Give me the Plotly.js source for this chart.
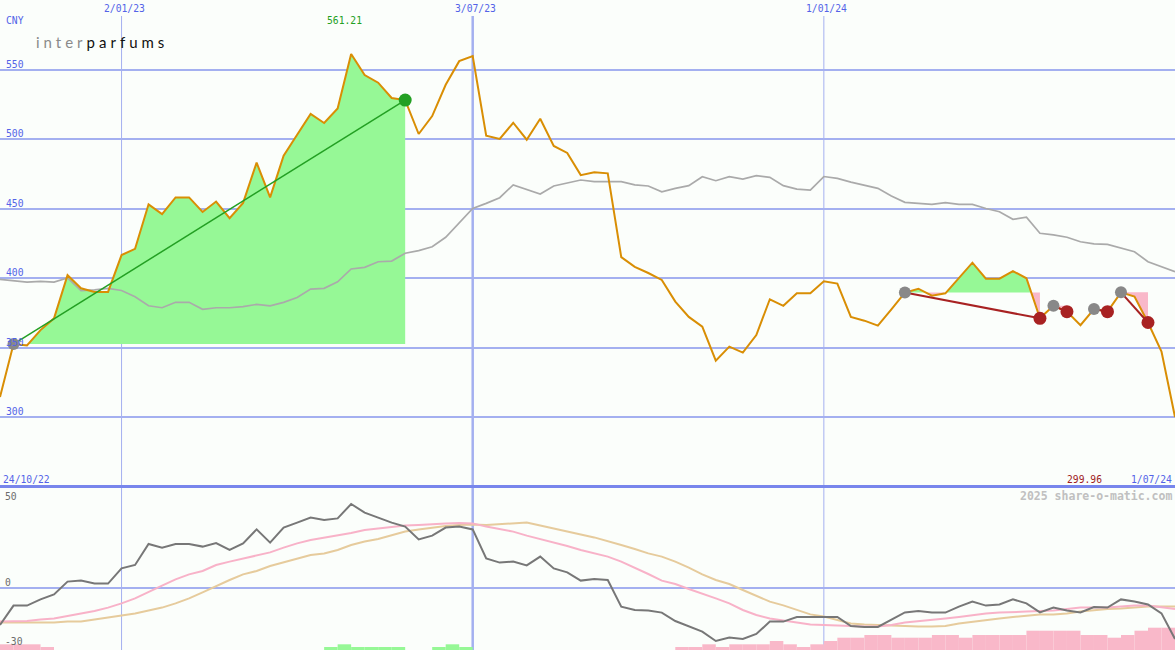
<!DOCTYPE html>
<html><head><meta charset="utf-8">
<script src="https://cdn.plot.ly/plotly-3.0.1.min.js"></script>
<style>
html,body{margin:0;padding:0;background:#fbfefb;}
#chart{width:1175px;height:650px;}
g.annotation[data-index="0"] text{letter-spacing:4px;}
</style></head><body><div id="chart"></div>
<script>
// ---- data (weekly closes) ----
const firstWeek = '2022-10-31';
const price = [314.4,352.5,351.5,362.5,371,402,392.6,390,390,416.5,
  421,453,446,458,458,447.5,455,443,454,483,
  458,488,503,518,511.5,522,561.21,546,540.5,529.5,
  528,503.6,516.5,539,556,559.7,502.4,500,511.7,499.5,
  514.6,495,490,474,476,475.3,415,408,403.6,398.6,
  383,372,365,340.5,350.6,346.3,359,384.7,380,389,
  389,397.6,396,372,369.3,365.7,377.5,389.5,392.3,387.3,
  389,399.8,411,399.5,399.5,405,399.8,371,380,375.8,
  366,377.7,375.8,389.7,386.6,368,347,299.96];
const average = [399,398,397,397.5,397,400,391,391.5,392.6,391,
  386.5,380,378.6,382.5,382.5,377.5,378.6,378.6,379.4,381,
  380,382.5,386,392,392.6,397.3,406.5,407.7,411.7,412.2,
  417.8,419.7,422.5,429.3,440,450,453.7,457.8,467,463.8,
  460.4,466.2,468.6,470.5,469.3,469.3,469.3,467,466.2,462,
  464.5,466.4,472.9,470,472.9,471.2,473.6,472.4,466.4,464,
  463.3,473,471.7,469,467,464.5,459,454.4,453.7,453,
  454.2,453,453,450,447.7,442.2,443.7,432.2,431,429.3,
  426.1,424.5,424.2,421.4,418.9,411.7,408.1,404.5];
const momentum = [-18.5,-8.8,-8.8,-5.7,-3.2,3.2,3.7,2.2,2.2,9.8,
  11.5,22,20.2,22,22,20.7,22.5,19,22.3,29.3,
  22.7,30.2,32.7,35.2,34,34.8,42,37.7,35.2,32.7,
  30.7,24.3,26.2,30.2,30.7,29.3,14.8,12.7,13.2,11.3,
  15.7,9.8,7.8,3.7,4.5,4,-9.3,-11,-11.3,-12.3,
  -16.5,-19,-21.8,-26.5,-24.8,-25.5,-23,-16.8,-16.8,-14.5,
  -14.5,-14.5,-14.5,-19,-19.5,-19.5,-15.7,-12.2,-11.5,-12.3,
  -12.3,-9.3,-6.8,-8.8,-8.2,-5.7,-7.7,-12.2,-9.8,-11.2,
  -12.2,-9.5,-9.8,-5.7,-6.8,-8.2,-12.7,-25.5];
const signalFast = [-16.8,-16.7,-16.5,-15.8,-15.2,-14,-12.8,-11.5,-9.8,-7.7,
  -5.2,-2.2,1.2,4.3,6.8,8.5,11.5,13.2,14.8,16.5,
  17.8,20.2,22.3,24,25.2,26.2,27.5,29,29.8,30.5,
  31.2,31.5,31.7,32.2,32.5,32.3,30.7,29.5,28.2,26.2,
  24.5,22.8,21,19,17.3,15.7,13.2,10.2,7,3.7,
  2,-0.5,-2.7,-5.2,-7.7,-11,-13.5,-15.2,-16.2,-17.3,
  -18.2,-18.5,-18.8,-19.3,-19.3,-19.3,-18.5,-17.3,-16.5,-15.7,
  -15.2,-14.5,-13.5,-12.8,-12.3,-12.2,-11.8,-11.5,-11.3,-10.5,
  -9.8,-9.8,-9.8,-9.3,-8.8,-8.8,-9.8,-10.5];
const signalSlow = [-17.3,-17.3,-17.3,-17.3,-17.2,-16.8,-16.8,-15.7,-14.8,-13.8,
  -12.7,-11.3,-9.8,-7.7,-5.2,-2.2,1,4,6.8,8.5,
  11,12.8,14.5,16.5,17.3,19,21.5,23.2,24.5,26.5,
  28.2,29.3,30.2,31,31.5,31.8,31.5,32,32.5,32.7,
  31.2,29.8,28.5,26.8,25.3,23.5,21.5,19.5,17.3,15.7,
  13.2,10.2,6.8,4,2,-1,-4,-6.8,-8.7,-11,
  -13.2,-14.3,-16,-17.7,-18.2,-18.5,-19,-19.3,-19.3,-19.3,
  -19,-17.7,-16.8,-16,-15.2,-14.5,-13.8,-13.2,-13.2,-12.7,
  -11.8,-11,-10.5,-10.2,-9.7,-9.3,-9.3,-9.3];
// histogram: positive = green, negative = pink
const histogram = [-2.85,-2.85,-2.85,-1.5,0,0,0,0,0,0,
  0,0,0,0,0,0,0,0,0,0,
  0,0,0,0,1.5,2.85,1.5,1.5,1.5,1.5,
  0,0,1.5,2.85,1.5,0,0,0,0,0,
  0,0,0,0,0,0,0,0,0,0,
  -1.5,-1.5,-2.85,-1.5,-2.85,-2.85,-2.85,-4.5,-2.85,-1.5,
  -2.85,-4.5,-6.15,-6.15,-7.5,-7.5,-6.15,-6.15,-6.15,-7.5,
  -7.5,-6.15,-7.5,-7.5,-7.5,-7.5,-9.65,-9.65,-9.65,-9.65,
  -7.5,-7.5,-6.15,-7.5,-9.65,-11.15,-11.15,-11.15];
const tradeEntry = [1,67,78,81,83];
const tradeExit  = [30,77,79,82,85];
const priceTicks = [300,350,400,450,500,550];
const oscTicks = [50,0,-30];
const dateTicks = ['2023-01-02','2023-07-03','2024-01-01'];
const dateTickText = ['2/01/23','3/07/23','1/01/24'];
const currency = 'CNY';
const startLabel = '24/10/22';
const endLabel = '1/07/24';
const credit = '2025 share-o-matic.com';

// ---- styles ----
const BG = '#fbfefb', GRID = '#a4b0f0', SEP = '#7886ec', BLUE = '#5363e8';
const MONO = 'DejaVu Sans Mono, monospace';
const LOGO_SPACING = 4;
const DAY = 864e5;
const t0 = Date.parse(firstWeek + 'T00:00:00Z');
const ms = price.map((_, k) => t0 + k * 7 * DAY);
const toStr = m => new Date(m).toISOString().slice(0, 19).replace('T', ' ');
const dates = ms.map(toStr);
const N = price.length;

function regionPolys(i0, i1) {
  const base = price[i0];
  const px = [], py = [];
  for (let j = i0; j <= i1; j++) {
    px.push(ms[j]); py.push(price[j]);
    if (j < i1) {
      const a = price[j] - base, b = price[j + 1] - base;
      if (a * b < 0) { const f = a / (a - b); px.push(ms[j] + f * (ms[j + 1] - ms[j])); py.push(base); }
    }
  }
  const X = px.map(toStr).concat([toStr(ms[i1]), toStr(ms[i0])]);
  return {
    up: { x: X, y: py.map(v => Math.max(v, base)).concat([base, base]) },
    dn: { x: X, y: py.map(v => Math.min(v, base)).concat([base, base]) }
  };
}

const traces = [];
tradeEntry.forEach((e, i) => {
  const p = regionPolys(e, tradeExit[i]);
  traces.push({ type: 'scatter', mode: 'lines', x: p.up.x, y: p.up.y, fill: 'toself', fillcolor: '#96f896', line: { width: 0 }, hoverinfo: 'skip' });
  traces.push({ type: 'scatter', mode: 'lines', x: p.dn.x, y: p.dn.y, fill: 'toself', fillcolor: '#f9b8c9', line: { width: 0 }, hoverinfo: 'skip' });
});
traces.push({ type: 'scatter', mode: 'lines', x: dates, y: average, line: { color: '#aaaaaa', width: 1.7 } });
traces.push({ type: 'scatter', mode: 'lines', x: dates, y: price, line: { color: '#d98e04', width: 2 } });
tradeEntry.forEach((e, i) => {
  const x1 = tradeExit[i];
  const win = price[x1] > price[e];
  traces.push({ type: 'scatter', mode: 'lines', x: [dates[e], dates[x1]], y: [price[e], price[x1]],
    line: { color: win ? '#23a023' : '#a82222', width: win ? 1.5 : 2 } });
});
traces.push({ type: 'scatter', mode: 'markers', x: tradeEntry.map(i => dates[i]), y: tradeEntry.map(i => price[i]),
  marker: { color: '#888888', size: 12 } });
traces.push({ type: 'scatter', mode: 'markers', x: tradeExit.map(i => dates[i]), y: tradeExit.map(i => price[i]),
  marker: { color: tradeExit.map((x1, i) => price[x1] > price[tradeEntry[i]] ? '#23a023' : '#a82222'), size: 13 } });

// bottom panel
traces.push({ type: 'bar', x: dates, y: histogram.map(v => v > 0 ? v : 0), base: -31, width: 7 * DAY, offset: 0,
  marker: { color: '#96f896', line: { width: 0 } }, xaxis: 'x', yaxis: 'y2' });
traces.push({ type: 'bar', x: dates, y: histogram.map(v => v < 0 ? -v : 0), base: -31, width: 7 * DAY, offset: 0,
  marker: { color: '#f9b8c9', line: { width: 0 } }, xaxis: 'x', yaxis: 'y2' });
traces.push({ type: 'scatter', mode: 'lines', x: dates, y: signalSlow, line: { color: '#e6cb9c', width: 2 }, xaxis: 'x', yaxis: 'y2' });
traces.push({ type: 'scatter', mode: 'lines', x: dates, y: signalFast, line: { color: '#f8b2c8', width: 2 }, xaxis: 'x', yaxis: 'y2' });
traces.push({ type: 'scatter', mode: 'lines', x: dates, y: momentum, line: { color: '#777777', width: 2 }, xaxis: 'x', yaxis: 'y2' });

const W = 1175, H = 650;
const px = x => x / W, py = y => 1 - y / H;
const shapes = [];
dateTicks.forEach((d, i) => {
  shapes.push({ type: 'line', xref: 'x', yref: 'paper', x0: d, x1: d, y0: 0, y1: py(16), layer: 'below',
    line: { color: GRID, width: i === 1 ? 2.5 : 1 } });
});
shapes.push({ type: 'line', xref: 'paper', yref: 'paper', x0: 0, x1: 1, y0: py(486.5), y1: py(486.5), line: { color: SEP, width: 3 } });

const ann = [];
ann.push({ xref: 'paper', yref: 'paper', x: px(34 + 6 * LOGO_SPACING), y: py(42), xanchor: 'left', yanchor: 'middle', showarrow: false,
  text: '<span style="color:#8a8a8a">inter</span><span style="color:#111111">parfums</span>',
  font: { family: 'Lato, sans-serif', size: 15, color: '#111' } });
ann.push({ xref: 'paper', yref: 'paper', x: px(4), y: py(21), xanchor: 'left', yanchor: 'middle', showarrow: false,
  text: currency, font: { family: MONO, size: 9.7, color: BLUE } });
priceTicks.forEach(v => ann.push({ xref: 'paper', yref: 'y', x: px(4), y: v, yshift: 5.5, xanchor: 'left', yanchor: 'middle',
  showarrow: false, text: String(v), font: { family: MONO, size: 9.7, color: BLUE } }));
dateTicks.forEach((d, i) => ann.push({ xref: 'x', yref: 'paper', x: d, xshift: 3, y: py(8.5), xanchor: 'center', yanchor: 'middle',
  showarrow: false, text: dateTickText[i], font: { family: MONO, size: 9.7, color: BLUE } }));
const maxV = Math.max(...price), maxI = price.indexOf(maxV);
ann.push({ xref: 'x', yref: 'paper', x: dates[maxI], xshift: -7, y: py(21), xanchor: 'center', yanchor: 'middle', showarrow: false,
  text: maxV.toFixed(2), font: { family: MONO, size: 9.7, color: '#23a023' } });
const minV = Math.min(...price);
ann.push({ xref: 'paper', yref: 'paper', x: px(1084), y: py(479), xanchor: 'center', yanchor: 'middle', showarrow: false,
  text: minV.toFixed(2), font: { family: MONO, size: 9.7, color: '#a01c1c' } });
ann.push({ xref: 'paper', yref: 'paper', x: px(1), y: py(479), xanchor: 'left', yanchor: 'middle', showarrow: false,
  text: startLabel, font: { family: MONO, size: 9.7, color: BLUE } });
ann.push({ xref: 'paper', yref: 'paper', x: px(1174), y: py(479), xanchor: 'right', yanchor: 'middle', showarrow: false,
  text: endLabel, font: { family: MONO, size: 9.7, color: BLUE } });
ann.push({ xref: 'paper', yref: 'paper', x: px(1174), y: py(496), xanchor: 'right', yanchor: 'middle', showarrow: false,
  text: '<b>' + credit + '</b>', font: { family: MONO, size: 11.5, color: '#c0c0c0' } });
const oscShift = { '50': -8, '0': 6, '-30': 7 };
oscTicks.forEach(v => ann.push({ xref: 'paper', yref: 'y2', x: px(3), y: v, yshift: oscShift[String(v)], xanchor: 'left', yanchor: 'middle',
  showarrow: false, text: String(v), font: { family: MONO, size: 9.7, color: '#6c6c6c' } }));

const layout = {
  width: W, height: H, margin: { l: 0, r: 0, t: 0, b: 0, pad: 0 },
  paper_bgcolor: BG, plot_bgcolor: BG, showlegend: false, barmode: 'overlay', hovermode: false,
  xaxis: { type: 'date', range: [dates[0], dates[N - 1]], showgrid: false, zeroline: false, showticklabels: false,
    ticks: '', showline: false, anchor: 'y2', fixedrange: true },
  yaxis: { domain: [163 / 650, 1], range: [249.64, 600], tickvals: priceTicks, showticklabels: false, showgrid: true,
    gridcolor: GRID, gridwidth: 2, zeroline: false, ticks: '', anchor: 'x', fixedrange: true },
  yaxis2: { domain: [0, 163 / 650], range: [-31, 50.5], tickvals: [0], showticklabels: false, showgrid: true,
    gridcolor: GRID, gridwidth: 2, zeroline: false, ticks: '', anchor: 'x', fixedrange: true },
  shapes: shapes, annotations: ann
};
Plotly.newPlot('chart', traces, layout, { staticPlot: true, displayModeBar: false });
</script></body></html>
